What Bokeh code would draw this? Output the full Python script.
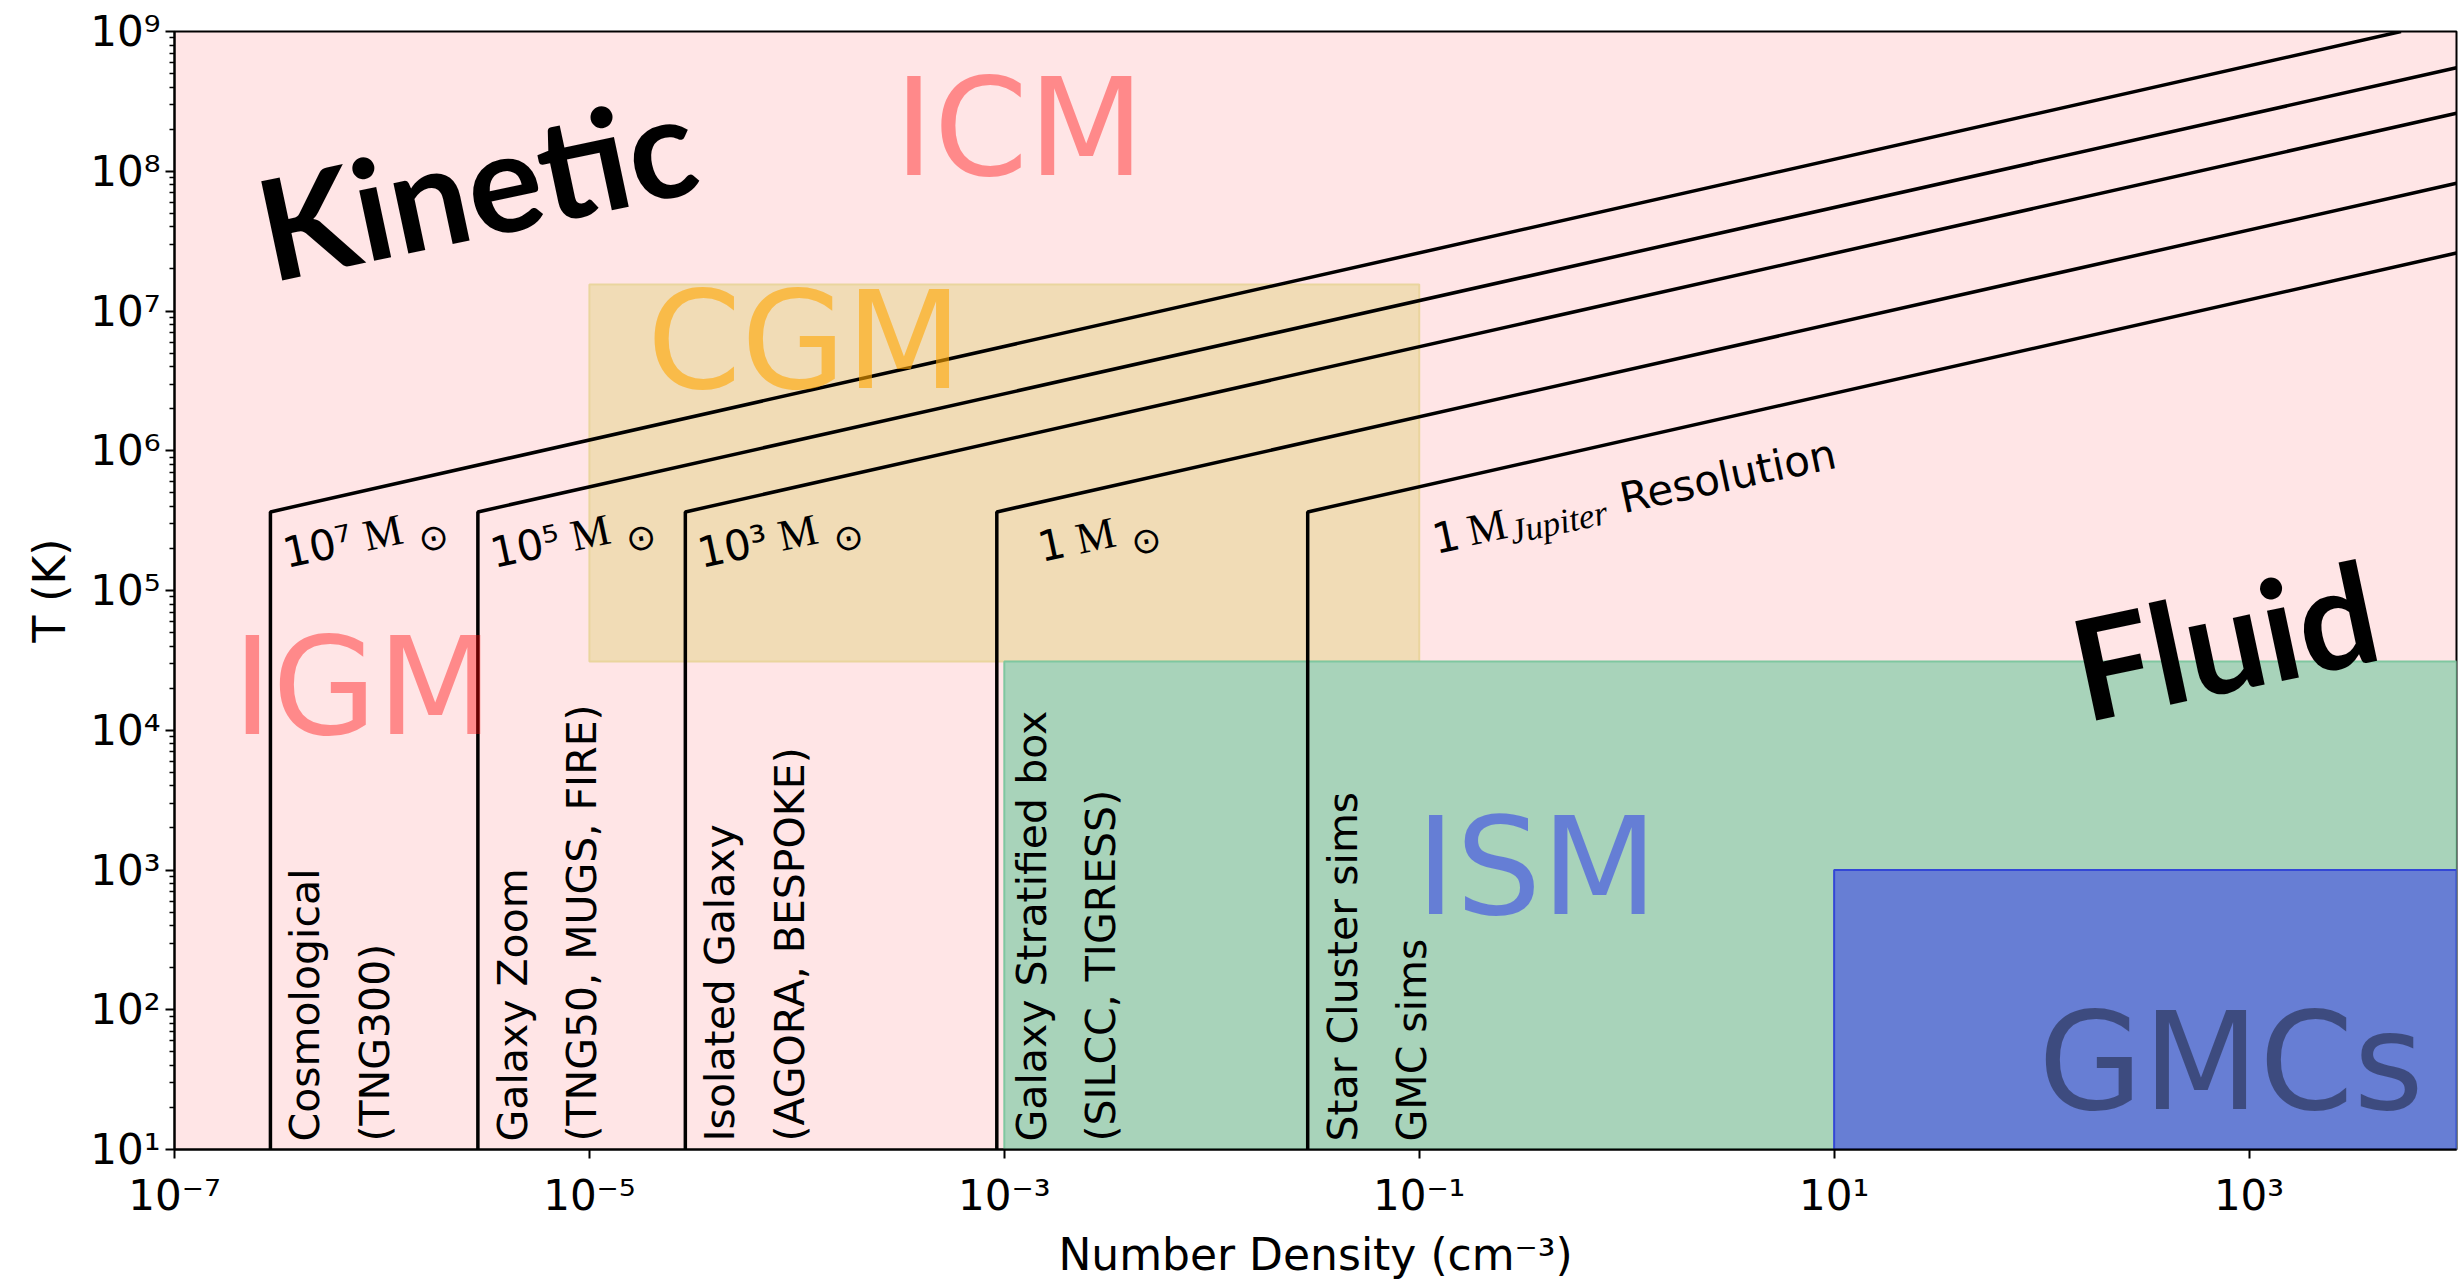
import math
from bokeh.plotting import figure
from bokeh.models import Range1d, FixedTicker, CustomJSTickFormatter
from bokeh.core.properties import value
from bokeh.embed import file_html
from bokeh.resources import INLINE

# ---------------- data ----------------
x_lim = [1e-7, 1e4]
y_lim = [1e1, 1e9]
x_major = [1e-7, 1e-5, 1e-3, 1e-1, 1e1, 1e3]
y_major = [1e1, 1e2, 1e3, 1e4, 1e5, 1e6, 1e7, 1e8, 1e9]

# resolution lines: vertical at n_start up to T_break, then straight (log-log) to end point
res_n_start = [2.9e-7, 2.9e-6, 2.9e-5, 9.2e-4, 2.9e-2]
res_T_break = [3.65e5, 3.65e5, 3.65e5, 3.65e5, 3.65e5]
res_n_end = [5.4e3, 1e4, 1e4, 1e4, 1e4]
res_T_end = [1e9, 5.5e8, 2.6e8, 8.2e7, 2.6e7]
mass_numbers = ["10\u2077", "10\u2075", "10\u00b3", "\u2002\u20091"]
sim_labels = ["Cosmological\n(TNG300)",
              "Galaxy Zoom\n(TNG50, MUGS, FIRE)",
              "Isolated Galaxy\n(AGORA, BESPOKE)",
              "Galaxy Stratified box\n(SILCC, TIGRESS)",
              "Star Cluster sims\nGMC  sims"]

# shaded regions
box_names = ["CGM", "ISM", "GMCs"]
box_n0 = [1e-5, 1e-3, 1e1]
box_n1 = [1e-1, 1e4, 1e4]
box_T0 = [3.1e4, 1e1, 1e1]
box_T1 = [1.55e7, 3.1e4, 1e3]
box_fill = ["#F1DCB6", "#A8D3BA", "#677ED4"]
box_edge = ["#EAD59E", "#7FC7A0", "#3347D6"]

# region names (centre of baseline)
reg_names = ["ICM", "CGM", "IGM", "ISM", "GMCs"]
reg_n = [1.18e-3, 1.09e-4, 8.1e-7, 0.369, 819]
reg_T = [9.6e7, 2.88e6, 9.6e3, 494, 19.9]
reg_color = ["red", "orange", "red", "blue", "black"]
reg_alpha = [0.4, 0.6, 0.4, 0.4, 0.4]

# regime words (centre of baseline)
regime_names = ["Kinetic", "Fluid"]
regime_n = [3.18e-6, 847]
regime_T = [3.77e7, 2.12e4]

# ---------------- figure ----------------
p = figure(width=2458, height=1282, x_axis_type="log", y_axis_type="log",
           x_range=Range1d(*x_lim), y_range=Range1d(*y_lim),
           output_backend="svg", toolbar_location=None,
           min_border_left=174, min_border_top=31, min_border_right=2, min_border_bottom=133)
p.background_fill_color = "#FFE5E6"
p.border_fill_color = "white"
p.grid.visible = False
p.outline_line_color = "black"
p.outline_line_width = 2

fmt = CustomJSTickFormatter(code="""
const sup = {'-':'\u207b','0':'\u2070','1':'\u00b9','2':'\u00b2','3':'\u00b3','4':'\u2074','5':'\u2075','6':'\u2076','7':'\u2077','8':'\u2078','9':'\u2079'};
const e = Math.round(Math.log10(tick));
return '10' + String(e).split('').map(c => sup[c]).join('');
""")
y_minor = [m * t for t in y_major[:-1] for m in range(2, 10)]
p.xaxis.ticker = FixedTicker(ticks=x_major, minor_ticks=[])
p.yaxis.ticker = FixedTicker(ticks=y_major, minor_ticks=y_minor)
for ax in (p.xaxis[0], p.yaxis[0]):
    ax.formatter = fmt
    ax.major_label_text_font = "DejaVu Sans"
    ax.major_label_text_font_size = "42px"
    ax.major_label_text_color = "black"
    ax.axis_label_text_font = "DejaVu Sans"
    ax.axis_label_text_font_size = "44px"
    ax.axis_label_text_font_style = "normal"
    ax.axis_label_text_color = "black"
    ax.axis_line_color = "black"
    ax.axis_line_width = 2
    ax.major_tick_line_color = "black"
    ax.major_tick_line_width = 2
    ax.major_tick_out = 9
    ax.major_tick_in = 0
    ax.minor_tick_line_color = "black"
    ax.minor_tick_line_width = 1.5
    ax.minor_tick_out = 5
    ax.minor_tick_in = 0
    ax.major_label_standoff = 5
    ax.axis_label_standoff = 6
p.xaxis.major_label_standoff = 12
p.yaxis.axis_label_standoff = 12
p.xaxis.axis_label = "Number Density (cm\u207b\u00b3)"
p.yaxis.axis_label = "T (K)"

# boxes
p.quad(left=box_n0, right=box_n1, bottom=box_T0, top=box_T1,
       fill_color=box_fill, line_color=box_edge, line_width=2)

# resolution lines
xs = [[a, a, b] for a, b in zip(res_n_start, res_n_end)]
ys = [[y_lim[0], tb, te] for tb, te in zip(res_T_break, res_T_end)]
p.multi_line(xs=xs, ys=ys, line_color="black", line_width=3.5)

# simulation labels (vertical)
p.text(x=res_n_start, y=[y_lim[0]] * len(res_n_start), text=sim_labels,
       angle=math.pi / 2, text_font=value("DejaVu Sans"), text_font_size="41px",
       text_align="left", text_baseline="top", text_line_height=1.45,
       x_offset=11, y_offset=-8, text_color="black")

# mass labels along the diagonals
th = math.radians(12)
def off(ox, oy, d, q):
    return ox + d * math.cos(th) + q * math.sin(th), oy - d * math.sin(th) + q * math.cos(th)

def num_width(s, fs):
    w = 0
    for c in s:
        if c in "0123456789":
            w += 0.636 * fs
        elif c == "\u2002":
            w += 0.5 * fs
        elif c == "\u2009":
            w += 0.2 * fs
        else:
            w += 0.40 * fs
    return w

for i, num in enumerate(mass_numbers):
    xn, yn = res_n_start[i], res_T_break[i]
    ox, oy = 13, 42
    dM = num_width(num, 42) + 12
    dS = dM + 68
    p.text(x=[xn], y=[yn], text=[num], angle=th, text_font=value("DejaVu Sans"),
           text_font_size="42px", text_align="left", text_baseline="alphabetic",
           x_offset=ox, y_offset=oy, text_color="black")
    mx, my = off(ox, oy, dM, 0)
    p.text(x=[xn], y=[yn], text=["M"], angle=th, text_font=value("Liberation Serif"),
           text_font_size="44px", text_align="left", text_baseline="alphabetic",
           x_offset=mx, y_offset=my, text_color="black")
    sx, sy = off(ox, oy, dS, 15)
    p.text(x=[xn], y=[yn], text=["\u2299"], angle=th, text_font=value("DejaVu Sans"),
           text_font_size="36px", text_align="center", text_baseline="middle",
           x_offset=sx, y_offset=sy, text_color="black")

# Jupiter label on the last line
xj, yj = res_n_start[4], res_T_break[4]
ox, oy = 125, 27
pieces = [("1", "DejaVu Sans", "42px", "normal", 0, 0),
          ("M", "Liberation Serif", "44px", "normal", 36, 0),
          ("Jupiter", "Liberation Serif", "35px", "italic", 77, 10),
          ("Resolution", "DejaVu Sans", "42px", "normal", 192, 0)]
for t, f, fs, st, d, q in pieces:
    jx, jy = off(ox, oy, d, q)
    p.text(x=[xj], y=[yj], text=[t], angle=th, text_font=value(f), text_font_size=fs,
           text_font_style=st, text_align="left", text_baseline="alphabetic",
           x_offset=jx, y_offset=jy, text_color="black")

# region names
reg_fs = 135
for nm, xn, yt, c, a in zip(reg_names, reg_n, reg_T, reg_color, reg_alpha):
    p.text(x=[xn], y=[yt], text=[nm], text_font=value("DejaVu Sans"), text_font_size=f"{reg_fs}px",
           text_align="center", text_baseline="alphabetic", text_color=c, text_alpha=a,
           y_offset=-0.335 * reg_fs)

# regime words
rg_fs = 140
s = 0.34 * rg_fs
p.text(x=regime_n, y=regime_T, text=regime_names, angle=th, text_font=value("Lato"),
       text_font_size=f"{rg_fs}px", text_font_style="bold", text_align="center",
       text_baseline="alphabetic", text_color="black",
       x_offset=-s * math.sin(th), y_offset=-s * math.cos(th))

open("out.html", "w").write(file_html(p, INLINE))
